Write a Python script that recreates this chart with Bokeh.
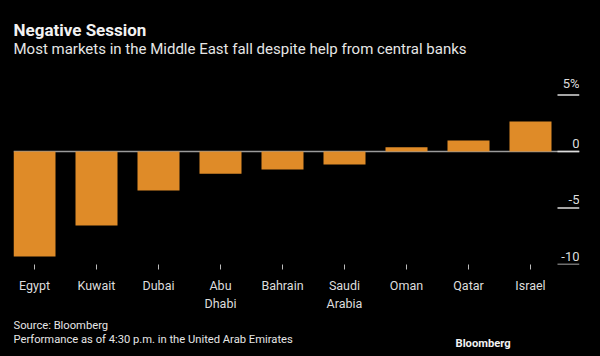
from bokeh.plotting import figure
from bokeh.layouts import column
from bokeh.models import Range1d, FixedTicker, Span, ColumnDataSource
from bokeh.core.properties import value
from bokeh.embed import file_html
from bokeh.resources import INLINE

markets = ["Egypt", "Kuwait", "Dubai", "Abu\nDhabi", "Bahrain", "Saudi\nArabia", "Oman", "Qatar", "Israel"]
change_pct = [-9.3, -6.55, -3.45, -1.97, -1.59, -1.15, 0.38, 0.97, 2.65]
y_ticks = [5, 0, -5, -10]
y_tick_labels = ["5%", "0", "-5", "-10"]

title = "Negative Session"
subtitle = "Most markets in the Middle East fall despite help from central banks"
source_note = "Source: Bloomberg"
perf_note = "Performance as of 4:30 p.m. in the United Arab Emirates"
brand = "Bloomberg"

FONT = "Roboto"
ORANGE = "#DF8B28"
W = 600
LEFT, RIGHT = 13, 21
HEAD_H = 66
PX_PER_UNIT = 11.3
FRAME_H = 264 - HEAD_H
BOTTOM = 52


def text_fig(h):
    # frame spans the same columns as the chart frame; x is canvas px
    f = figure(width=W, height=h, output_backend="svg", toolbar_location=None,
               x_range=Range1d(LEFT, W - RIGHT), y_range=Range1d(h, 0),
               x_axis_type=None, y_axis_type=None,
               min_border_left=LEFT, min_border_right=RIGHT, min_border_top=0, min_border_bottom=0,
               background_fill_color="black", border_fill_color="black")
    f.outline_line_color = None
    f.grid.visible = False
    return f


def put(f, text, x, y, size, bold=False, color="#e6e6e6"):
    f.text(x=[x], y=[y], text=[text], text_font=value(FONT), text_font_size=size,
           text_color=color, text_font_style="bold" if bold else "normal",
           text_baseline="middle", text_align="left")


# header
head = text_fig(HEAD_H)
put(head, title, 13, 29, "17px", bold=True, color="#f2f2f2")
put(head, subtitle, 13, 48, "15px")

# main chart
x_idx = list(range(len(markets)))
x_start = -21 / 62
x_end = x_start + (W - LEFT - RIGHT) / 62
y_start = -10
y_end = y_start + FRAME_H / PX_PER_UNIT

p = figure(width=W, height=FRAME_H + BOTTOM, output_backend="svg", toolbar_location=None,
           x_range=Range1d(x_start, x_end), y_range=Range1d(y_start, y_end),
           min_border_left=LEFT, min_border_right=RIGHT, min_border_top=0, min_border_bottom=BOTTOM,
           background_fill_color="black", border_fill_color="black")
p.outline_line_color = None
p.grid.visible = False
p.yaxis.visible = False

ax = p.xaxis[0]
ax.ticker = FixedTicker(ticks=x_idx)
ax.major_label_overrides = {i: m for i, m in zip(x_idx, markets)}
ax.axis_line_color = None
ax.major_tick_line_color = "#bbbbbb"
ax.major_tick_in = 0
ax.major_tick_out = 5
ax.minor_tick_line_color = None
ax.major_label_standoff = 8
ax.major_label_text_color = "#dddddd"
ax.major_label_text_font = FONT
ax.major_label_text_font_size = "12.5px"

p.add_layout(Span(location=0, dimension="width", line_color="#9a9a9a", line_width=1.5, level="underlay"))

src = ColumnDataSource(dict(x=x_idx, top=change_pct))
p.vbar(x="x", top="top", bottom=0, width=42 / 62, source=src, fill_color=ORANGE, line_color=None)

tsrc = ColumnDataSource(dict(y=y_ticks, lab=y_tick_labels,
                             x0=[x_end - 22 / 62] * len(y_ticks), x1=[x_end] * len(y_ticks)))
p.segment(x0="x0", x1="x1", y0="y", y1="y", source=tsrc, line_color="#dddddd", line_width=1.5)
p.text(x="x1", y="y", text="lab", source=tsrc, text_align="right", text_baseline="bottom",
       y_offset=-4, text_color="#dddddd", text_font=value(FONT), text_font_size="13px")

# footer
FOOT_TOP = HEAD_H + FRAME_H + BOTTOM
FOOT_H = 356 - FOOT_TOP
foot = text_fig(FOOT_H)
put(foot, source_note, 13, 325 - FOOT_TOP, "11.2px")
put(foot, perf_note, 13, 339 - FOOT_TOP, "11.2px")
put(foot, brand, 455, 343 - FOOT_TOP, "11.2px", bold=True, color="#f2f2f2")

layout = column(head, p, foot, spacing=0, styles={"background-color": "black"})
open("out.html", "w").write(file_html(layout, INLINE))
